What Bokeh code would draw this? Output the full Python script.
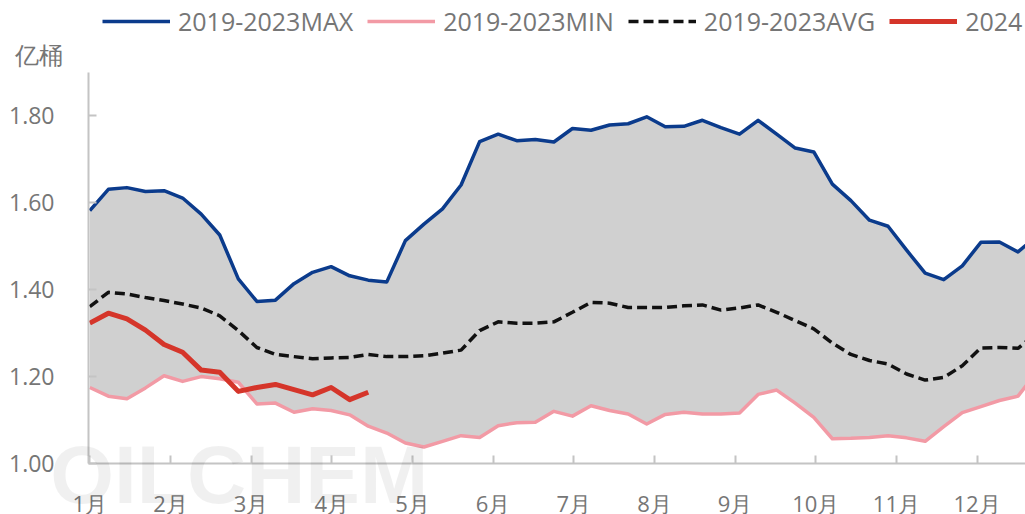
from bokeh.plotting import figure
from bokeh.models import Range1d, FixedTicker, Legend, LegendItem, Label, NumeralTickFormatter
from bokeh.embed import file_html
from bokeh.resources import INLINE

# ---------------- data ----------------
months = ["1月", "2月", "3月", "4月", "5月", "6月", "7月", "8月", "9月", "10月", "11月", "12月"]
weeks = list(range(52))

max_vals = [1.582, 1.631, 1.635, 1.626, 1.628, 1.611, 1.574, 1.526, 1.425, 1.373,
            1.376, 1.414, 1.440, 1.453, 1.432, 1.422, 1.418, 1.513, 1.551, 1.586,
            1.641, 1.741, 1.758, 1.743, 1.746, 1.740, 1.771, 1.767, 1.779, 1.782,
            1.798, 1.775, 1.776, 1.790, 1.773, 1.758, 1.790, 1.758, 1.726, 1.717,
            1.643, 1.605, 1.560, 1.546, 1.491, 1.438, 1.423, 1.455, 1.509, 1.510,
            1.487, 1.523]
min_vals = [1.175, 1.155, 1.149, 1.174, 1.202, 1.189, 1.200, 1.195, 1.187, 1.137,
            1.139, 1.118, 1.126, 1.122, 1.112, 1.086, 1.070, 1.047, 1.038, 1.051,
            1.064, 1.060, 1.087, 1.094, 1.095, 1.120, 1.109, 1.133, 1.122, 1.114,
            1.091, 1.113, 1.118, 1.114, 1.114, 1.116, 1.159, 1.169, 1.139, 1.106,
            1.057, 1.058, 1.060, 1.064, 1.059, 1.051, 1.085, 1.117, 1.131, 1.145,
            1.155, 1.210]
avg_vals = [1.361, 1.394, 1.390, 1.382, 1.375, 1.367, 1.358, 1.340, 1.306, 1.267,
            1.251, 1.246, 1.241, 1.243, 1.244, 1.251, 1.246, 1.246, 1.248, 1.254,
            1.261, 1.306, 1.326, 1.323, 1.323, 1.326, 1.348, 1.371, 1.369, 1.359,
            1.359, 1.359, 1.363, 1.365, 1.353, 1.358, 1.365, 1.348, 1.329, 1.310,
            1.277, 1.251, 1.237, 1.229, 1.206, 1.192, 1.198, 1.225, 1.266, 1.267,
            1.265, 1.300]
vals_2024 = [1.323, 1.346, 1.333, 1.307, 1.274, 1.256, 1.215, 1.210, 1.166, 1.175,
             1.182, 1.170, 1.158, 1.175, 1.147, 1.164]

y_ticks = [1.00, 1.20, 1.40, 1.60, 1.80]
labels = ["2019-2023MAX", "2019-2023MIN", "2019-2023AVG", "2024"]
unit_text = "亿桶"

# week index -> month units (x axis measured in months)
DAYS_PER_MONTH = 365.0 / 12.0
xm = [w * 7.0 / DAYS_PER_MONTH for w in weeks]
xm_2024 = xm[:len(vals_2024)]

FONT = "Open Sans"
TXT = "#767676"

X0, X1 = -0.016, 11.6      # visible data span of the x axis
Y0, Y1 = 1.0, 1.9          # visible data span of the y axis

p = figure(width=1025, height=514, output_backend="svg", toolbar_location=None,
           x_range=Range1d(-1.107, X1), y_range=Range1d(0.8826, 2.0657),
           min_border_left=0, min_border_right=0, min_border_top=0, min_border_bottom=0)
p.outline_line_color = None
p.grid.visible = False
p.background_fill_color = "white"
p.border_fill_color = "white"

p.varea(x=xm, y1=min_vals, y2=max_vals, fill_color="#d0d0d0")
r_max = p.line(xm, max_vals, line_color="#0b3b8c", line_width=3.5, line_join="round")
r_min = p.line(xm, min_vals, line_color="#f29aa5", line_width=3.5, line_join="round")
r_avg = p.line(xm, avg_vals, line_color="#111111", line_width=3.5, line_dash="10 5")
r_24 = p.line(xm_2024, vals_2024, line_color="#d5352a", line_width=5, line_join="round")

# faint watermark
p.add_layout(Label(x=-0.49, y=0.975, text="OILCHEM", text_font="Liberation Sans",
                   text_font_style="bold", text_font_size="82px", text_color="#000000",
                   text_alpha=0.06, text_align="left", text_baseline="alphabetic"))

# axes
for ax in (p.xaxis[0], p.yaxis[0]):
    ax.axis_line_color = "#c4c4c4"
    ax.axis_line_width = 2
    ax.major_tick_line_color = "#c4c4c4"
    ax.major_tick_line_width = 2
    ax.major_tick_in = 8
    ax.major_tick_out = 0
    ax.minor_tick_line_color = None
    ax.major_label_text_font = FONT
    ax.major_label_text_color = TXT

p.xaxis.ticker = FixedTicker(ticks=list(range(12)))
p.xaxis.major_label_overrides = {i: months[i] for i in range(12)}
p.xaxis.major_label_text_font_size = "22px"
p.xaxis.major_label_standoff = 25
p.xaxis.bounds = (X0, X1)
p.xaxis.fixed_location = Y0

p.yaxis.ticker = FixedTicker(ticks=y_ticks)
p.yaxis.formatter = NumeralTickFormatter(format="0.00")
p.yaxis.major_label_text_font_size = "23px"
p.yaxis.major_label_standoff = 34
p.yaxis.bounds = (Y0, Y1)
p.yaxis.fixed_location = X0

# unit label
p.add_layout(Label(x=-0.624, y=1.941, text=unit_text, text_font=FONT, text_font_size="24px",
                   text_color=TXT, text_align="center", text_baseline="middle"))

legend = Legend(items=[LegendItem(label=labels[0], renderers=[r_max]),
                       LegendItem(label=labels[1], renderers=[r_min]),
                       LegendItem(label=labels[2], renderers=[r_avg]),
                       LegendItem(label=labels[3], renderers=[r_24])],
                orientation="horizontal", location=(102, 476),
                label_text_font=FONT, label_text_font_size="25px", label_text_color=TXT,
                glyph_width=68, glyph_height=20, label_standoff=8, spacing=14,
                padding=0, margin=0, border_line_alpha=0, background_fill_alpha=0)
p.add_layout(legend)

open("out.html", "w").write(file_html(p, INLINE))
